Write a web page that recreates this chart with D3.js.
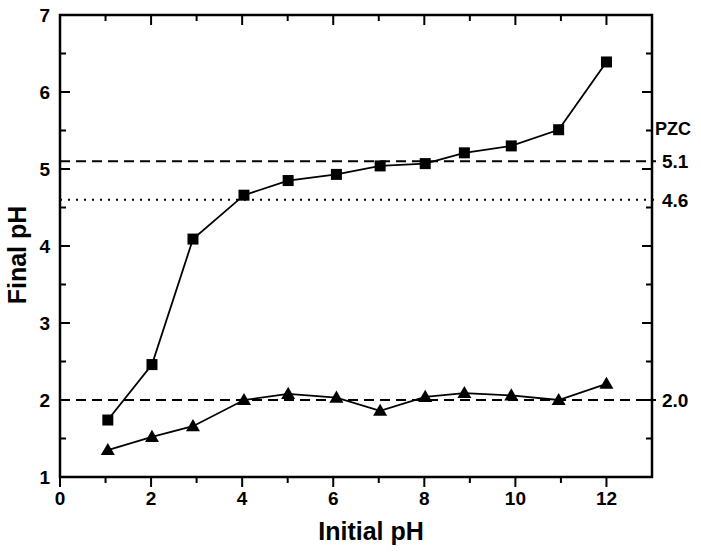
<!DOCTYPE html>
<html>
<head>
<meta charset="utf-8">
<script src="https://cdn.jsdelivr.net/npm/d3@7"></script>
<style>
  body { margin: 0; background: #fff; }
  text { font-family: "Liberation Sans", Arial, sans-serif; font-weight: bold; fill: #000; }
</style>
</head>
<body>
<div id="chart"></div>
<script>
// data
const initialPh = [1.05, 2.02, 2.92, 4.04, 5.01, 6.07, 7.03, 8.02, 8.88, 9.91, 10.95, 12.0];
const finalPhSquare = [1.74, 2.46, 4.09, 4.66, 4.85, 4.93, 5.04, 5.07, 5.21, 5.30, 5.51, 6.39];
const finalPhTriangle = [1.35, 1.52, 1.66, 2.00, 2.08, 2.03, 1.86, 2.04, 2.09, 2.06, 2.00, 2.21];
const refLines = [
    { value: 5.1, label: "5.1", style: "dash" },
    { value: 4.6, label: "4.6", style: "dot" },
    { value: 2.0, label: "2.0", style: "dash" }
];
const xTicks = [0, 2, 4, 6, 8, 10, 12];
const yTicks = [1, 2, 3, 4, 5, 6, 7];

const width = 701, height = 553;
const margin = { left: 60, right: 49, top: 15, bottom: 76 };

const svg = d3.select("#chart").append("svg")
    .attr("width", width)
    .attr("height", height);

const x = d3.scaleLinear().domain([0, 13]).range([margin.left, width - margin.right]);
const y = d3.scaleLinear().domain([1, 7]).range([height - margin.bottom, margin.top]);

// reference lines
const refs = svg.append("g").attr("id", "ref_lines");
refs.selectAll("line")
    .data(refLines)
    .enter()
    .append("line")
    .attr("x1", x(0))
    .attr("x2", x(13) + 4)
    .attr("y1", d => y(d.value))
    .attr("y2", d => y(d.value))
    .attr("stroke", "#000")
    .attr("stroke-width", 2)
    .attr("stroke-dasharray", d => d.style === "dash" ? "10,6" : "2,6");

refs.selectAll("text")
    .data(refLines)
    .enter()
    .append("text")
    .attr("x", x(13) + 10)
    .attr("y", d => y(d.value) + 7)
    .attr("font-size", 19)
    .text(d => d.label);

refs.append("text")
    .attr("x", x(13) + 3)
    .attr("y", 135)
    .attr("font-size", 18)
    .text("PZC");

// series lines
const line = d3.line().x(d => x(d[0])).y(d => y(d[1]));
const squareData = initialPh.map((v, i) => [v, finalPhSquare[i]]);
const triData = initialPh.map((v, i) => [v, finalPhTriangle[i]]);

const series = svg.append("g").attr("id", "series");
[squareData, triData].forEach(data => {
    series.append("path")
        .datum(data)
        .attr("d", line)
        .attr("fill", "none")
        .attr("stroke", "#000")
        .attr("stroke-width", 1.8);
});

series.selectAll("rect.sq")
    .data(squareData)
    .enter()
    .append("rect")
    .attr("class", "sq")
    .attr("x", d => x(d[0]) - 5.5)
    .attr("y", d => y(d[1]) - 5.5)
    .attr("width", 11)
    .attr("height", 11)
    .attr("fill", "#000");

const tri = d3.symbol().type(d3.symbolTriangle).size(85);
series.selectAll("path.tri")
    .data(triData)
    .enter()
    .append("path")
    .attr("class", "tri")
    .attr("d", tri)
    .attr("transform", d => `translate(${x(d[0])},${y(d[1]) + 1})`)
    .attr("fill", "#000");

// axes
const axes = svg.append("g").attr("id", "axes");
const x0 = x(0), x1 = x(13), y0 = y(1), y1 = y(7);

const minorX = d3.range(1, 13, 2);
const minorY = d3.range(1.5, 7, 1);

// bottom ticks, outward
axes.selectAll("line.bx")
    .data(xTicks.concat(minorX))
    .enter()
    .append("line")
    .attr("x1", d => x(d)).attr("x2", d => x(d))
    .attr("y1", y0).attr("y2", d => y0 + (d % 2 === 0 ? 10 : 6))
    .attr("stroke", "#000").attr("stroke-width", 2);

// top ticks, inward
axes.selectAll("line.tx")
    .data(xTicks.concat(minorX))
    .enter()
    .append("line")
    .attr("x1", d => x(d)).attr("x2", d => x(d))
    .attr("y1", y1).attr("y2", d => y1 + (d % 2 === 0 ? 10 : 6))
    .attr("stroke", "#000").attr("stroke-width", 2);

// left and right ticks, inward
axes.selectAll("line.ly")
    .data(yTicks.concat(minorY))
    .enter()
    .append("line")
    .attr("x1", x0).attr("x2", d => x0 + (Number.isInteger(d) ? 10 : 6))
    .attr("y1", d => y(d)).attr("y2", d => y(d))
    .attr("stroke", "#000").attr("stroke-width", 2);

axes.selectAll("line.ry")
    .data(yTicks.concat(minorY))
    .enter()
    .append("line")
    .attr("x1", x1).attr("x2", d => x1 - (Number.isInteger(d) ? 10 : 6))
    .attr("y1", d => y(d)).attr("y2", d => y(d))
    .attr("stroke", "#000").attr("stroke-width", 2);

axes.append("rect")
    .attr("x", x0).attr("y", y1)
    .attr("width", x1 - x0).attr("height", y0 - y1)
    .attr("fill", "none")
    .attr("stroke", "#000")
    .attr("stroke-width", 2.5);

axes.selectAll("text.xl")
    .data(xTicks)
    .enter()
    .append("text")
    .attr("x", d => x(d))
    .attr("y", y0 + 28)
    .attr("text-anchor", "middle")
    .attr("font-size", 19)
    .text(d => d);

axes.selectAll("text.yl")
    .data(yTicks)
    .enter()
    .append("text")
    .attr("x", x0 - 10)
    .attr("y", d => y(d) + 7)
    .attr("text-anchor", "end")
    .attr("font-size", 19)
    .text(d => d);

svg.append("text")
    .attr("x", (x0 + x1) / 2 + 15)
    .attr("y", 540)
    .attr("text-anchor", "middle")
    .attr("font-size", 25)
    .text("Initial pH");

svg.append("text")
    .attr("transform", `translate(26,255) rotate(-90)`)
    .attr("text-anchor", "middle")
    .attr("font-size", 25)
    .text("Final pH");
</script>
</body>
</html>
